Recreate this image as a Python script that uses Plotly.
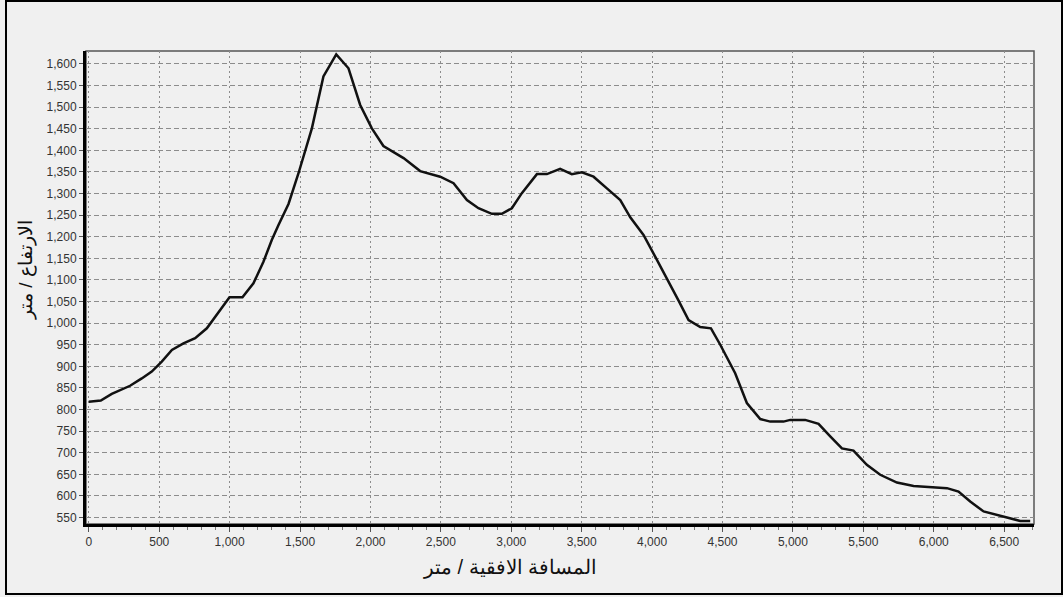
import plotly.graph_objects as go

# Elevation profile: horizontal distance (m) vs elevation (m)
distance_m = [0, 85, 163, 293, 376, 447, 518, 590, 672, 755, 838, 909, 999, 1091,
              1169, 1240, 1300, 1347, 1418, 1489, 1584, 1666, 1757, 1844, 1927,
              2010, 2092, 2235, 2353, 2495, 2590, 2685, 2767, 2862, 2933, 3004,
              3075, 3182, 3253, 3347, 3430, 3501, 3584, 3679, 3774, 3845, 3939,
              4022, 4105, 4188, 4259, 4342, 4418, 4484, 4590, 4673, 4768, 4839,
              4933, 4981, 5087, 5182, 5265, 5348, 5430, 5525, 5620, 5739, 5857,
              5999, 6094, 6176, 6259, 6354, 6472, 6543, 6614, 6685]
elevation_m = [818, 821, 836, 855, 872, 888, 911, 938, 953, 965, 988, 1019, 1060, 1060,
               1092, 1142, 1193, 1227, 1276, 1347, 1451, 1571, 1622, 1590, 1505,
               1451, 1410, 1382, 1352, 1339, 1324, 1285, 1266, 1253, 1253, 1266,
               1301, 1345, 1345, 1357, 1345, 1349, 1339, 1312, 1285, 1245, 1204,
               1154, 1104, 1052, 1007, 991, 988, 950, 884, 815, 778, 772,
               772, 776, 776, 767, 738, 710, 705, 672, 649, 631, 623,
               620, 618, 610, 587, 564, 554, 549, 542, 542]

x_ticks = list(range(0, 6501, 500))
y_ticks = list(range(550, 1601, 50))

BG = "#f0f0f0"
GRID = "#8c8c8c"
TICKFONT = dict(family="Liberation Sans, Arial, sans-serif", size=12, color="#333333")

fig = go.Figure()
fig.add_trace(go.Scatter(
    x=distance_m, y=elevation_m, mode="lines",
    line=dict(color="#111111", width=2.5),
    hoverinfo="x+y", showlegend=False,
))

# plot area geometry in pixels
W, H = 1063, 597
L, R, T, B = 86, 29, 51, 73
pw, ph = W - L - R, H - T - B

def px_x(p):
    return (p - L) / pw

def px_y(p):
    return (H - B - p) / ph

fig.update_layout(
    width=W, height=H,
    margin=dict(l=L, r=R, t=T, b=B),
    paper_bgcolor=BG, plot_bgcolor=BG,
    xaxis=dict(
        range=[-20, 6712], tickvals=x_ticks, tickformat=",d",
        showgrid=True, gridcolor=GRID, gridwidth=1, griddash="2px,3px",
        zeroline=False,
        showline=True, linecolor="#000000", linewidth=3,
        ticks="outside", ticklen=5, tickcolor="#555555", tickwidth=1,
        minor=dict(dtick=100, tick0=0, ticks="outside", ticklen=3,
                   tickcolor="#777777", showgrid=False),
        tickfont=TICKFONT,
    ),
    yaxis=dict(
        range=[535, 1630], tickvals=y_ticks, tickformat=",d",
        showgrid=True, gridcolor=GRID, gridwidth=1, griddash="5px,3px",
        zeroline=False,
        showline=True, linecolor="#000000", linewidth=3,
        ticks="outside", ticklen=4, tickcolor="#555555", tickwidth=1,
        tickfont=TICKFONT,
    ),
    shapes=[
        # thin frame around the plotting area
        dict(type="rect", xref="paper", yref="paper", x0=0, x1=1, y0=0, y1=1,
             line=dict(color="#555555", width=1.5), layer="below"),
        # outer border of the figure
        dict(type="rect", xref="paper", yref="paper",
             x0=px_x(6), x1=px_x(1062), y0=px_y(594), y1=px_y(1),
             line=dict(color="#000000", width=2)),
    ],
    annotations=[
        dict(text="المسافة الافقية / متر", xref="paper", yref="paper",
             x=px_x(510), y=px_y(567), showarrow=False,
             xanchor="center", yanchor="middle",
             font=dict(family="Liberation Sans, Arial, sans-serif", size=20, color="#111111")),
        dict(text="الارتفاع / متر", xref="paper", yref="paper",
             x=px_x(26), y=px_y(270), showarrow=False, textangle=-90,
             xanchor="center", yanchor="middle",
             font=dict(family="Liberation Sans, Arial, sans-serif", size=19, color="#111111")),
    ],
)

fig.write_html("out.html")
